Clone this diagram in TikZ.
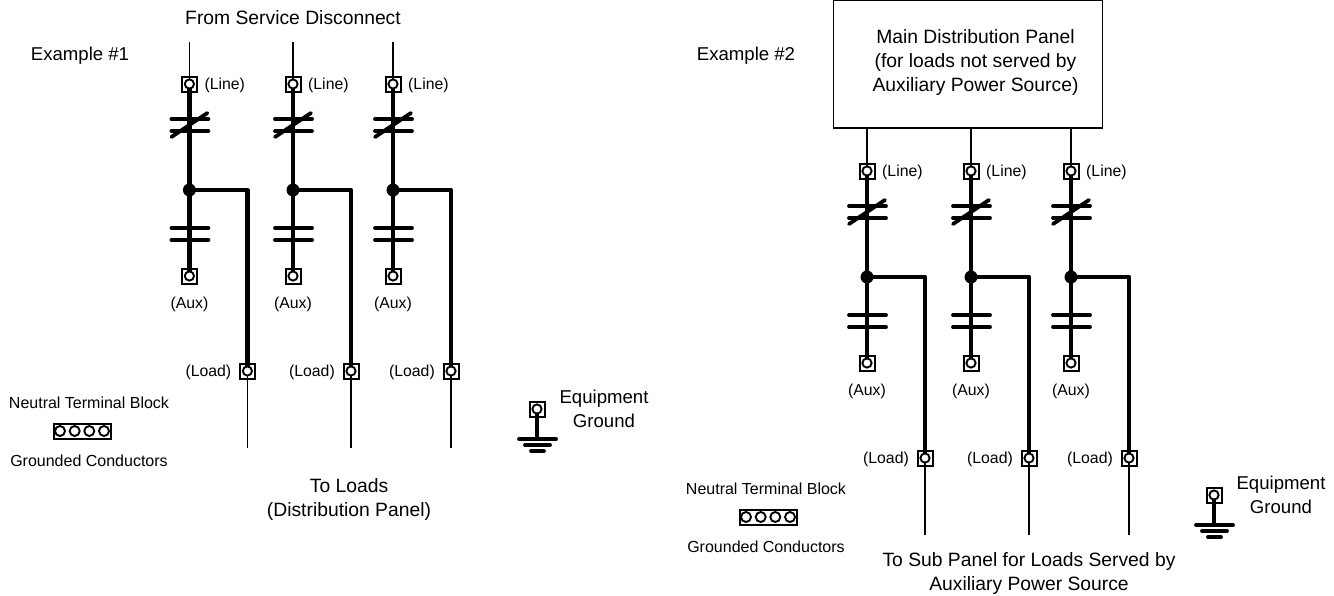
\documentclass[tikz,border=0pt]{standalone}
\usepackage{fontspec}
\setmainfont{Liberation Sans}
\usetikzlibrary{backgrounds}
\tikzset{
  x=1pt,y=-1pt,
  thickwire/.style={line width=4.2pt,line cap=round,line join=round},
  thinwire/.style={line width=1.8pt},
  barwire/.style={line width=3.8pt,line cap=round},
  termbox/.style={draw,line width=2pt,rectangle,minimum size=15pt,inner sep=0pt,outer sep=0pt},
  termring/.style={draw,line width=1.9pt,circle,fill=white,minimum size=9.2pt,inner sep=0pt,outer sep=0pt},
  junction/.style={circle,fill=black,minimum size=13pt,inner sep=0pt},
  bigtext/.style={font=\fontsize{19.3}{24}\selectfont,align=center,inner sep=0pt},
  medtext/.style={font=\fontsize{18.6}{24}\selectfont,align=center,inner sep=0pt},
  smalltext/.style={font=\fontsize{15.8}{20}\selectfont,align=center,inner sep=0pt},
  neutraltext/.style={font=\fontsize{16}{20}\selectfont,align=center,inner sep=0pt},
  blockbox/.style={draw,line width=2pt,rectangle,minimum width=57pt,minimum height=15pt,inner sep=0pt,outer sep=0pt},
  blockring/.style={draw,line width=1.9pt,circle,minimum size=10pt,inner sep=0pt},
  panelbox/.style={draw,line width=1.9pt,rectangle,minimum width=269pt,minimum height=128pt,inner sep=0pt},
}
\newcommand{\terminal}[2]{%
  \node[termbox] (#1) at (#2) {};
  \node[termring] (#1r) at (#2) {};
}
% prefix, x, y of line terminal
\newcommand{\phasecol}[3]{%
\begin{scope}[shift={(#2,#3)}]
  \coordinate (#1top) at (0,-42);
  \terminal{#1line}{0,0}
  \node[smalltext,anchor=west] (#1linelab) at (15,1) {(Line)};
  \coordinate (#1ua) at (-18,35); \coordinate (#1ub) at (19,35);
  \coordinate (#1uc) at (-18,47); \coordinate (#1ud) at (19,47);
  \coordinate (#1sa) at (-18,53); \coordinate (#1sb) at (18,29);
  \node[junction] (#1j) at (0,106) {};
  \coordinate (#1corner) at (58,106);
  \coordinate (#1la) at (-18,144); \coordinate (#1lb) at (19,144);
  \coordinate (#1lc) at (-18,156); \coordinate (#1ld) at (19,156);
  \terminal{#1aux}{0,192}
  \node[smalltext] (#1auxlab) at (0,220) {(Aux)};
  \terminal{#1load}{58,287}
  \node[smalltext,anchor=east] (#1loadlab) at (42,288) {(Load)};
  \coordinate (#1bot) at (58,364);
  \begin{pgfonlayer}{background}
    \draw[thinwire] (#1top) -- (#1line.center);
    \draw[thickwire] (#1line.center) -- (#1aux.center);
    \draw[thickwire] (#1j.center) -- (#1corner) -- (#1load.center);
    \draw[thinwire] (#1load.center) -- (#1bot);
    \draw[barwire] (#1ua) -- (#1ub);
    \draw[barwire] (#1uc) -- (#1ud);
    \draw[barwire] (#1sa) -- (#1sb);
    \draw[barwire] (#1la) -- (#1lb);
    \draw[barwire] (#1lc) -- (#1ld);
  \end{pgfonlayer}
\end{scope}}
% prefix, x of text centre, y of block, x of block centre
\newcommand{\neutralblock}[4]{%
  \node[blockbox] (#1box) at (#4,#3) {};
  \begin{scope}[shift={(#4,#3)}]
  \foreach \cx/\nm in {-22/a,-7.3/b,7.3/c,22/d}{
    \node[blockring] (#1\nm) at (\cx,0) {};
  }
  \end{scope}
  \begin{scope}[shift={(#2,#3)}]
  \node[neutraltext] (#1top) at (0,-28) {Neutral Terminal Block};
  \node[neutraltext] (#1bot) at (0,30) {Grounded Conductors};
  \end{scope}}
% prefix, x, y of terminal
\newcommand{\groundsym}[3]{%
\begin{scope}[shift={(#2,#3)}]
  \terminal{#1t}{0,0}
  \coordinate (#1g) at (0,29);
  \coordinate (#1a) at (-18,30); \coordinate (#1b) at (19,30);
  \coordinate (#1c) at (-12,36); \coordinate (#1d) at (13,36);
  \coordinate (#1e) at (-6,42);  \coordinate (#1f) at (7,42);
  \begin{pgfonlayer}{background}
    \draw[thickwire] (#1t.center) -- (#1g);
  \end{pgfonlayer}
  \draw[barwire] (#1a) -- (#1b);
  \draw[barwire] (#1c) -- (#1d);
  \draw[barwire] (#1e) -- (#1f);
  \node[medtext] (#1lab) at (67,0) {Equipment\\Ground};
\end{scope}}
\begin{document}
\begin{tikzpicture}
\useasboundingbox (0,0) rectangle (1334,595);
% Example 1
\node[medtext] (ex1) at (80,56) {Example \#1};
\node[bigtext] (svc) at (293,18) {From Service Disconnect};
\phasecol{a}{189.4}{84}
\phasecol{b}{293}{84}
\phasecol{c}{393}{84}
\neutralblock{na}{89}{431}{82}
\groundsym{ga}{537}{409}
\node[bigtext] (toloads) at (349,499) {To Loads\\(Distribution Panel)};
% Example 2
\node[medtext] (ex2) at (746,56) {Example \#2};
\node[panelbox] (panel) at (968,64) {};
\node[bigtext] (paneltext) at (975.5,63) {Main Distribution Panel\\(for loads not served by\\Auxiliary Power Source)};
\phasecol{d}{867}{171}
\phasecol{e}{971}{171}
\phasecol{f}{1071}{171}
\neutralblock{nb}{766}{517}{768}
\groundsym{gb}{1214}{495}
\node[bigtext] (tosub) at (1029,574) {To Sub Panel for Loads Served by\\Auxiliary Power Source};
\end{tikzpicture}
\end{document}
